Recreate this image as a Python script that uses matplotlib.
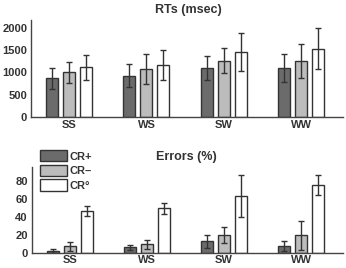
import matplotlib
matplotlib.use('Agg')
import matplotlib.pyplot as plt
import numpy as np
from matplotlib.patches import Patch

plt.rcParams['font.family'] = ['Liberation Sans', 'DejaVu Sans']
plt.rcParams['font.weight'] = 'bold'

groups = ['SS', 'WS', 'SW', 'WW']
conds = ['CR+', 'CR\u2013', 'CR\u00b0']
colors = ['#6b6b6b', '#bcbcbc', '#ffffff']

# RTs (msec): mean and error per condition, groups in order SS, WS, SW, WW
rt_mean = [[865, 920, 1095, 1100],
           [1000, 1075, 1262, 1262],
           [1112, 1170, 1455, 1530]]
rt_err = [[235, 260, 262, 312],
          [240, 338, 285, 383],
          [280, 335, 425, 455]]

# Errors (%)
err_mean = [[2.5, 6.8, 13.0, 7.9],
            [7.9, 9.7, 20.3, 19.7],
            [46.8, 49.5, 63.0, 74.8]]
err_err = [[2.5, 2.7, 7.5, 5.5],
           [5.0, 4.5, 9.0, 15.7],
           [5.6, 6.0, 23.0, 11.0]]

fig = plt.figure(figsize=(3.46, 2.68), dpi=100)
ax1 = fig.add_axes([0.0905, 0.564, 0.9, 0.361])
ax2 = fig.add_axes([0.0925, 0.055, 0.898, 0.322])

x = np.arange(len(groups))
offs = [-0.22, 0, 0.22]


def draw(ax, means, errs):
    for k in range(3):
        ax.bar(x + offs[k], means[k], width=0.155, color=colors[k],
               edgecolor='#333333', linewidth=1.0,
               yerr=errs[k], error_kw=dict(ecolor='#333333', elinewidth=1.0,
                                           capsize=2.5, capthick=1.0))
    ax.set_xticks(x)
    ax.set_xticklabels(groups, fontsize=8, fontweight='bold', color='#333333')
    ax.set_xlim(-0.49, 3.54)
    for s in ['top', 'right']:
        ax.spines[s].set_visible(False)
    for s in ['left', 'bottom']:
        ax.spines[s].set_color('#444444')
        ax.spines[s].set_linewidth(1.0)
    ax.tick_params(axis='x', length=0, pad=2.5)
    ax.tick_params(axis='y', length=0, pad=3, labelsize=8, colors='#333333')


draw(ax1, rt_mean, rt_err)
ax1.set_ylim(0, 2170)
ax1.set_yticks([0, 500, 1000, 1500, 2000])
for t in ax1.get_yticklabels():
    t.set_fontweight('bold')

draw(ax2, err_mean, err_err)
ax2.set_ylim(0, 95)
ax2.set_yticks([0, 20, 40, 60, 80])
ax2.tick_params(axis='x', pad=1.5)
for t in ax2.get_yticklabels():
    t.set_fontweight('bold')

fig.text(0.543, 0.962, 'RTs (msec)', ha='center', va='center',
         fontsize=9, fontweight='bold', color='#333333')
fig.text(0.54, 0.415, 'Errors (%)', ha='center', va='center',
         fontsize=9, fontweight='bold', color='#333333')

handles = [Patch(facecolor=colors[k], edgecolor='#333333', linewidth=1.0)
           for k in range(3)]
leg = fig.legend(handles, conds, loc='upper left', bbox_to_anchor=(0.117, 0.44),
                 frameon=False, fontsize=8, handlelength=2.35, handleheight=1.2,
                 handletextpad=0.25, labelspacing=0.28, borderpad=0, borderaxespad=0)
for t in leg.get_texts():
    t.set_fontweight('bold')
    t.set_color('#333333')

fig.savefig('out.png', dpi=100)
